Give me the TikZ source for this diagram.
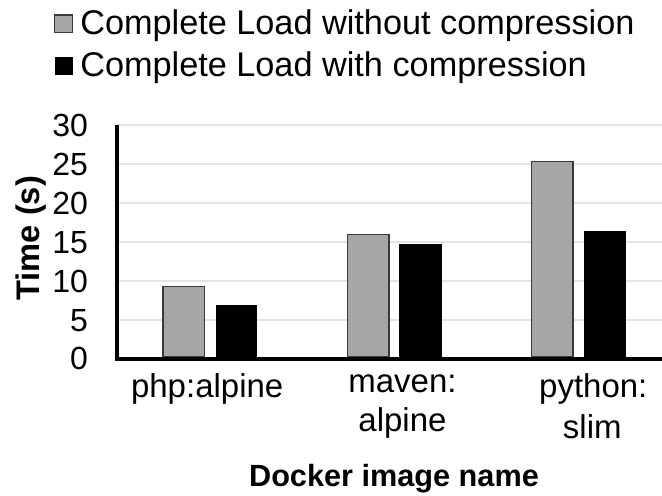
\documentclass[tikz,border=0pt]{standalone}
\usepackage{fontspec}
\setmainfont{Liberation Sans}
\definecolor{bargray}{HTML}{A6A6A6}
\definecolor{gridgray}{HTML}{E4E4E4}
\definecolor{edgegray}{HTML}{3A3A3A}
\begin{document}
\begin{tikzpicture}[x=0.75pt,y=-0.75pt,
  gridline/.style={draw=gridgray,line width=1.5pt},
  axisline/.style={draw=black,line width=2.8pt},
  graybar/.style={fill=bargray,draw=edgegray,line width=0.8pt},
  blackbar/.style={fill=black,draw=black,line width=0.5pt},
  ticklab/.style={anchor=base east,inner sep=0pt,font=\fontsize{24}{28}\selectfont},
  catlab/.style={anchor=base,inner sep=0pt,font=\fontsize{24.75}{29}\selectfont},
  leglab/.style={anchor=base west,inner sep=0pt,font=\fontsize{25.7}{30}\selectfont},
  titlelab/.style={inner sep=0pt,font=\bfseries\fontsize{24.5}{29}\selectfont}]
\useasboundingbox (0,0) rectangle (662,496);
% legend
\draw[graybar] (54.3,15) rectangle (72.3,32.7);
\fill[black] (55,57.3) rectangle (72.7,75.3);
\node[leglab] (leg1) at (80,34.5) {Complete Load without compression};
\node[leglab] (leg2) at (80,76.5) {Complete Load with compression};
% gridlines
\foreach \v in {5,10,15,20,25,30} {
  \draw[gridline] (117,{358.6-7.78*\v}) -- (662,{358.6-7.78*\v});
}
% tick labels
\foreach \v in {0,5,10,15,20,25,30} {
  \node[ticklab] (tick\v) at (88.3,{358.6-7.78*\v+11.3}) {\v};
}
% bars
\draw[graybar] (163,357) rectangle (204.7,286.3);
\draw[blackbar] (216,357) rectangle (256.7,305.7);
\draw[graybar] (347.3,357) rectangle (389,234.7);
\draw[blackbar] (399.7,357) rectangle (441,244);
\draw[graybar] (531.3,357) rectangle (573,161.3);
\draw[blackbar] (584.3,357) rectangle (625.3,231.3);
% axes
\coordinate (ytop) at (117.3,125);
\coordinate (origin) at (117.3,358.8);
\coordinate (xend) at (662,358.8);
\draw[axisline] (ytop) -- (117.3,360.6);
\draw[axisline] (116,358.8) -- (xend);
% category labels
\node[catlab] (c1) at (207.2,397) {php:alpine};
\node[catlab] (c2a) at (402.5,392) {maven:};
\node[catlab] (c2b) at (402.5,431) {alpine};
\node[catlab] (c3a) at (593.3,397) {python:};
\node[catlab] (c3b) at (592.3,438) {slim};
% axis titles
\node[titlelab,rotate=90,anchor=base] (ytitle) at (40,238.3) {Time (s)};
\node[titlelab,anchor=base,font=\bfseries\fontsize{23}{27}\selectfont] (xtitle) at (394,486.7) {Docker image name};
\end{tikzpicture}
\end{document}
